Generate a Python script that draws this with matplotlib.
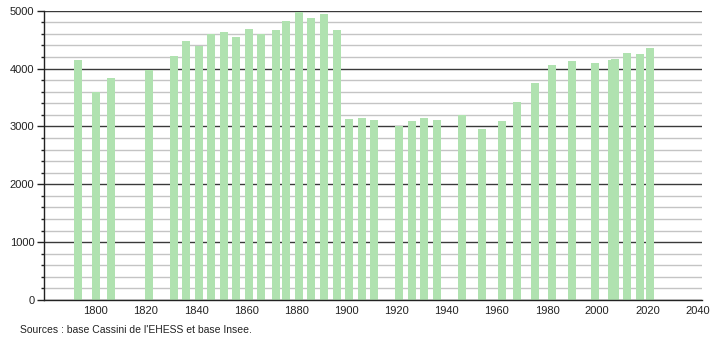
import matplotlib
matplotlib.use('Agg')
import matplotlib.pyplot as plt
from matplotlib.ticker import MultipleLocator

plt.rcParams['font.family'] = ['Liberation Sans Narrow', 'Liberation Sans', 'DejaVu Sans']

# Population census years and values
years = [1793, 1800, 1806, 1821, 1831, 1836, 1841, 1846, 1851, 1856,
         1861, 1866, 1872, 1876, 1881, 1886, 1891, 1896, 1901, 1906,
         1911, 1921, 1926, 1931, 1936, 1946, 1954, 1962, 1968, 1975,
         1982, 1990, 1999, 2006, 2007, 2012, 2017, 2021]
population = [4142, 3589, 3831, 3969, 4216, 4470, 4394, 4591, 4625, 4539,
              4677, 4591, 4660, 4815, 4971, 4867, 4936, 4660, 3128, 3145,
              3110, 3007, 3088, 3140, 3110, 3189, 2958, 3097, 3426, 3749,
              4060, 4129, 4094, 4150, 4162, 4263, 4251, 4352]

x_ticks = [1800, 1820, 1840, 1860, 1880, 1900, 1920, 1940, 1960, 1980, 2000, 2020, 2040]
y_ticks = [0, 1000, 2000, 3000, 4000, 5000]

bar_color = '#b0e2b0'
source_text = "Sources : base Cassini de l'EHESS et base Insee."


def main():
    fig = plt.figure(figsize=(7.1, 3.4), dpi=100)
    ax = fig.add_axes([44 / 710, 1 - 300 / 340, 658 / 710, 289.3 / 340])

    # grid: minor every 200, major every 1000
    ax.yaxis.set_minor_locator(MultipleLocator(200))
    ax.set_yticks(y_ticks)
    ax.grid(which='minor', axis='y', color='#c4c4c4', linewidth=1.0, zorder=0)
    ax.grid(which='major', axis='y', color='#3a3a3a', linewidth=1.0, zorder=0)
    ax.set_axisbelow(True)

    ax.bar(years, population, width=3.2, color=bar_color, zorder=2)

    ax.set_xlim(1779.3, 2041.8)
    ax.set_ylim(0, 5000)
    ax.set_xticks(x_ticks)

    for s in ['top', 'right']:
        ax.spines[s].set_visible(False)
    ax.spines['left'].set_color('#222222')
    ax.spines['bottom'].set_color('#222222')
    ax.spines['left'].set_linewidth(1.0)
    ax.spines['bottom'].set_linewidth(1.0)

    ax.tick_params(axis='x', length=0, pad=4, labelsize=8, colors='#222222')
    ax.tick_params(axis='y', which='major', length=5, width=1, pad=2, labelsize=8, colors='#222222')
    ax.tick_params(axis='y', which='minor', length=2.5, width=1, color='#222222')

    fig.text(20 / 710, 1 - 330 / 340, source_text, fontsize=7.5, color='#222222', va='center', ha='left')

    fig.savefig('out.png', dpi=100)


if __name__ == "__main__": main()
